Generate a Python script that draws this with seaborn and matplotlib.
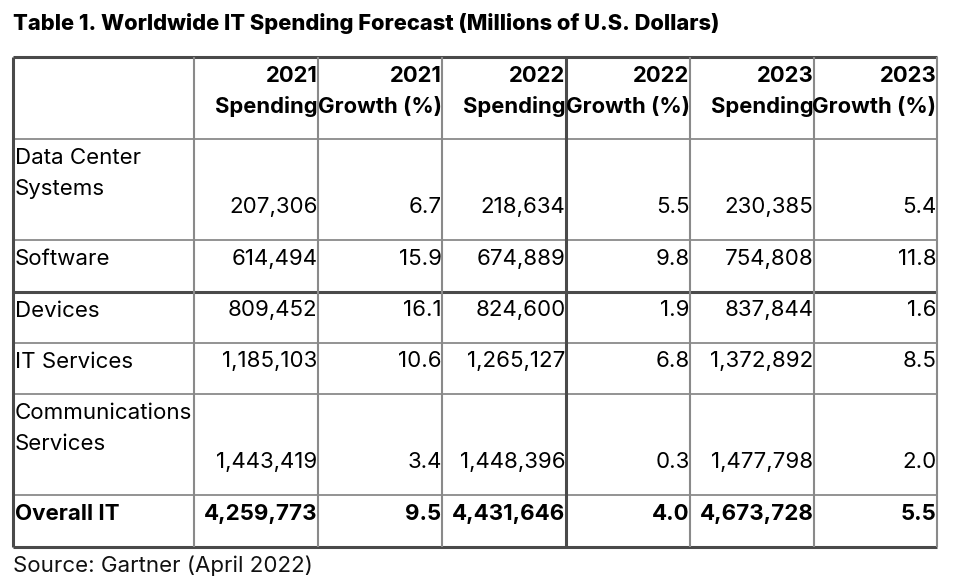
import matplotlib
matplotlib.use("Agg")
import matplotlib.pyplot as plt
import seaborn as sns
import pandas as pd

# ---- data ----
title = "Table 1. Worldwide IT Spending Forecast (Millions of U.S. Dollars)"
source = "Source: Gartner (April 2022)"
categories = ["Data Center\nSystems", "Software", "Devices", "IT Services",
              "Communications\nServices", "Overall IT"]
spend_2021 = [207306, 614494, 809452, 1185103, 1443419, 4259773]
growth_2021 = [6.7, 15.9, 16.1, 10.6, 3.4, 9.5]
spend_2022 = [218634, 674889, 824600, 1265127, 1448396, 4431646]
growth_2022 = [5.5, 9.8, 1.9, 6.8, 0.3, 4.0]
spend_2023 = [230385, 754808, 837844, 1372892, 1477798, 4673728]
growth_2023 = [5.4, 11.8, 1.6, 8.5, 2.0, 5.5]
headers = ["2021\nSpending", "2021\nGrowth (%)", "2022\nSpending",
           "2022\nGrowth (%)", "2023\nSpending", "2023\nGrowth (%)"]

df = pd.DataFrame({
    headers[0]: spend_2021, headers[1]: growth_2021,
    headers[2]: spend_2022, headers[3]: growth_2022,
    headers[4]: spend_2023, headers[5]: growth_2023,
}, index=categories)

# ---- layout (pixels) ----
col_edges = [13, 194, 318, 442, 566, 690, 814, 937]
row_edges = [57, 139, 240, 292, 343, 394, 495, 547]

sns.set_theme(style="white")
plt.rcParams['font.family'] = ['Inter', 'DejaVu Sans']

W, H = 961, 580
fig = plt.figure(figsize=(W / 100, H / 100), dpi=100)
ax = fig.add_axes([0, 0, 1, 1])
ax.set_xlim(0, W)
ax.set_ylim(H, 0)
ax.axis("off")

def pt(px):
    return px * 72 / 100

FS = pt(22.3)
FSB = pt(22)
grey = "#8a8a8a"
dark = "#4a4a4a"

# grid lines
for i, y in enumerate(row_edges):
    strong = y in (57, 292, 547)
    ax.hlines(y, col_edges[0], col_edges[-1], color=dark if strong else grey,
              lw=2.2 if strong else 1.3, zorder=2)
for j, x in enumerate(col_edges):
    strong = x in (13, 566)
    ax.vlines(x, row_edges[0], row_edges[-1], color=dark if strong else grey,
              lw=2.2 if strong else 1.5, zorder=2)

# title
ax.text(13, 30, title, fontsize=pt(21.9), fontweight="heavy", ha="left",
        va="baseline", color="black")

# header
for j, h in enumerate(df.columns):
    top, bottom = h.split("\n")
    xr = col_edges[j + 2] - 0.5
    ax.text(xr, row_edges[1] - 57, top, fontsize=FSB, fontweight="bold",
            ha="right", va="baseline", color="black")
    ax.text(xr, row_edges[1] - 26, bottom, fontsize=FSB, fontweight="bold",
            ha="right", va="baseline", color="black")

# body
for i, cat in enumerate(df.index):
    rt, rb = row_edges[i + 1], row_edges[i + 2]
    bold = cat == "Overall IT"
    wt = "bold" if bold else "normal"
    for k, line in enumerate(cat.split("\n")):
        ax.text(15, rt + 25 + 31 * k, line, fontsize=FS, fontweight=wt,
                ha="left", va="baseline", color="black")
    for j, col in enumerate(df.columns):
        v = df.loc[cat, col]
        s = f"{int(v):,}" if "Spending" in col else f"{v:.1f}"
        ax.text(col_edges[j + 2] - 0.5, rb - 27, s, fontsize=FS, fontweight=wt,
                ha="right", va="baseline", color="black")

ax.text(13, 572, source, fontsize=FS, ha="left", va="baseline", color="#111111")

fig.savefig("out.png", dpi=100, facecolor="white")
